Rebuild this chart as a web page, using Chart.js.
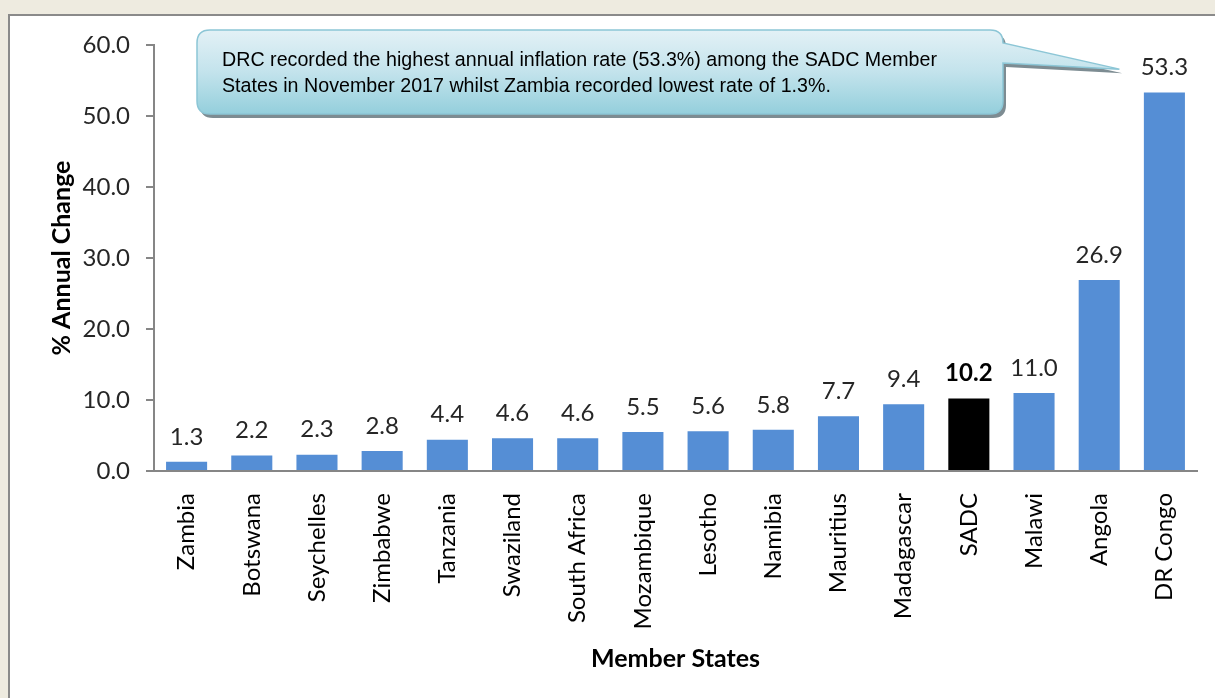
<!DOCTYPE html>
<html>
<head>
<meta charset="utf-8">
<script src="https://cdn.jsdelivr.net/npm/chart.js@4/dist/chart.umd.min.js"></script>
<style>
  html, body { margin: 0; padding: 0; background: #eeebe0; overflow: hidden; }
  #frame {
    position: absolute; left: 8px; top: 14px; width: 1220px; height: 700px;
    border: 2px solid #8a8a8a; background: #ffffff;
  }
  #chart { position: absolute; left: 0; top: 0; }
</style>
</head>
<body>
<div id="frame"></div>
<canvas id="chart" width="1215" height="698"></canvas>
<script>
const categories = ["Zambia", "Botswana", "Seychelles", "Zimbabwe", "Tanzania", "Swaziland",
  "South Africa", "Mozambique", "Lesotho", "Namibia", "Mauritius", "Madagascar",
  "SADC", "Malawi", "Angola", "DR Congo"];
const inflation = [1.3, 2.2, 2.3, 2.8, 4.4, 4.6, 4.6, 5.5, 5.6, 5.8, 7.7, 9.4, 10.2, 11.0, 26.9, 53.3];
const highlight = "SADC";
const yMin = 0, yMax = 60, yStep = 10;
const calloutLines = [
  "DRC recorded the highest annual inflation rate (53.3%) among the SADC Member",
  "States in November 2017 whilst Zambia recorded lowest rate of 1.3%."
];

const BLUE = "#558ed5";
const AXIS = "#868686";
const FONT = "Lato, 'Open Sans', sans-serif";

const barColors = categories.map(c => c === highlight ? "#000000" : BLUE);

/* value labels above bars */
const valueLabels = {
  id: "valueLabels",
  afterDatasetsDraw(chart) {
    const ctx = chart.ctx;
    const meta = chart.getDatasetMeta(0);
    ctx.save();
    ctx.textAlign = "center";
    ctx.textBaseline = "middle";
    meta.data.forEach((bar, i) => {
      const bold = categories[i] === highlight;
      ctx.font = (bold ? "bold " : "") + "24px " + FONT;
      ctx.fillStyle = bold ? "#000000" : "#262626";
      ctx.fillText(inflation[i].toFixed(1), bar.x, bar.y - 25);
    });
    ctx.restore();
  }
};

/* callout box pointing at the DR Congo value */
const callout = {
  id: "callout",
  afterDraw(chart) {
    const ctx = chart.ctx;
    const last = chart.getDatasetMeta(0).data[categories.length - 1];
    const tipX = last.x - 45, tipY = chart.scales.y.getPixelForValue(56.6);
    const x = 197, y = 30, w = 806, h = 84, r = 13;

    const shape = (ox, oy) => {
      ctx.beginPath();
      ctx.moveTo(x + r + ox, y + oy);
      ctx.lineTo(x + w - r + ox, y + oy);
      ctx.quadraticCurveTo(x + w + ox, y + oy, x + w + ox, y + r + oy);
      ctx.lineTo(tipX + ox, tipY + oy);
      ctx.lineTo(x + w + ox, y + 33 + oy);
      ctx.lineTo(x + w + ox, y + h - r + oy);
      ctx.quadraticCurveTo(x + w + ox, y + h + oy, x + w - r + ox, y + h + oy);
      ctx.lineTo(x + r + ox, y + h + oy);
      ctx.quadraticCurveTo(x + ox, y + h + oy, x + ox, y + h - r + oy);
      ctx.lineTo(x + ox, y + r + oy);
      ctx.quadraticCurveTo(x + ox, y + oy, x + r + ox, y + oy);
      ctx.closePath();
    };

    ctx.save();
    // shadow
    shape(3, 4);
    ctx.fillStyle = "#7d8c92";
    ctx.fill();
    // body
    shape(0, 0);
    const g = ctx.createLinearGradient(0, y, 0, y + h);
    g.addColorStop(0, "#e3f1f6");
    g.addColorStop(0.5, "#c3e3ec");
    g.addColorStop(1, "#94cfdc");
    ctx.fillStyle = g;
    ctx.fill();
    ctx.strokeStyle = "#8cc6d6";
    ctx.lineWidth = 1.5;
    ctx.stroke();

    // text
    ctx.fillStyle = "#000000";
    ctx.font = "20.5px 'Liberation Sans', Arial, sans-serif";
    ctx.textBaseline = "middle";
    ctx.textAlign = "left";
    const sx = 715 / ctx.measureText(calloutLines[0]).width;
    calloutLines.forEach((line, i) => {
      ctx.save();
      ctx.translate(222, 60 + i * 26);
      ctx.scale(sx, 1);
      ctx.fillText(line, 0, 0);
      ctx.restore();
    });
    ctx.restore();
  }
};

new Chart(document.getElementById("chart"), {
  type: "bar",
  data: {
    labels: categories,
    datasets: [{
      data: inflation,
      backgroundColor: barColors,
      barPercentage: 0.63,
      categoryPercentage: 1.0
    }]
  },
  options: {
    responsive: false,
    animation: false,
    devicePixelRatio: 1,
    layout: { padding: { top: 45, right: 18, bottom: 20, left: 43 } },
    plugins: {
      legend: { display: false },
      tooltip: { enabled: false }
    },
    scales: {
      x: {
        grid: { display: false },
        border: { color: AXIS, width: 2 },
        ticks: {
          color: "#000000",
          font: { family: FONT, size: 24 },
          minRotation: 90,
          maxRotation: 90,
          padding: 14,
          autoSkip: false
        },
        title: {
          display: true,
          text: "Member States",
          color: "#000000",
          font: { family: FONT, size: 25, weight: "bold" },
          padding: { top: 4, bottom: 4 }
        },
        afterFit(s) { s.height = 698 - 20 - 471; }
      },
      y: {
        min: yMin,
        max: yMax,
        grid: { display: true, drawOnChartArea: false, drawTicks: true, tickLength: 8, color: AXIS, lineWidth: 2 },
        border: { color: AXIS, width: 2 },
        ticks: {
          stepSize: yStep,
          color: "#262626",
          font: { family: FONT, size: 24 },
          padding: 16,
          callback: v => v.toFixed(1)
        },
        title: {
          display: true,
          text: "% Annual Change",
          color: "#000000",
          font: { family: FONT, size: 25, weight: "bold" },
          padding: { top: 4, bottom: 4 }
        },
        afterFit(s) { s.width = 154 - 43; }
      }
    }
  },
  plugins: [valueLabels, callout]
});
</script>
</body>
</html>
